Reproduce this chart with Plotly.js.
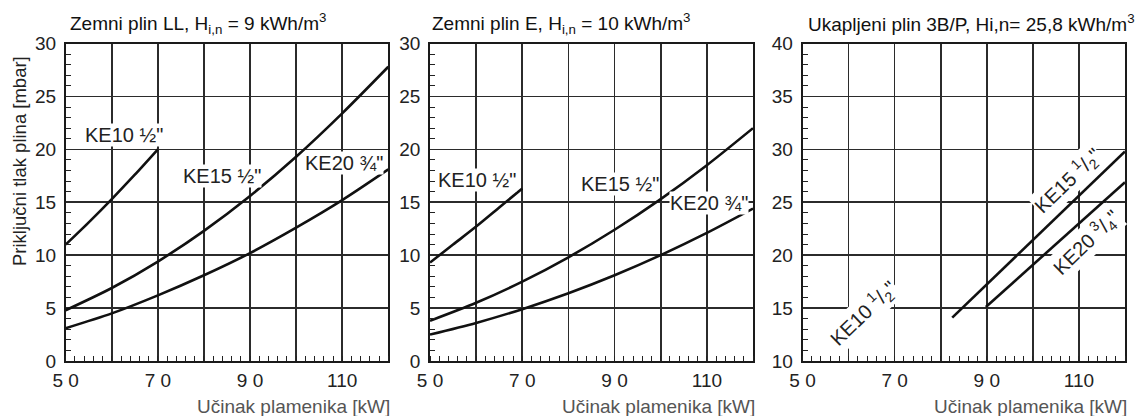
<!DOCTYPE html>
<html>
<head>
<meta charset="utf-8">
<script src="https://cdn.plot.ly/plotly-3.0.1.min.js"></script>
<style>html,body{margin:0;padding:0;background:#fff;}#chart{width:1140px;height:416px;}</style>
</head>
<body>
<div id="chart"></div>
<script>
// ---------- data ----------
const xTickVals = [50, 60, 70, 80, 90, 100, 110, 120];
const xTickText = ["5 0", "", "7 0", "", "9 0", "", "110", ""];

// Panel 1: Zemni plin LL
const llKE10x = [50, 55, 60, 65, 70];
const llKE10y = [11.0, 13.1, 15.3, 17.6, 20.0];
const llKE15x = [50, 60, 70, 80, 90, 100, 110, 120];
const llKE15y = [4.8, 6.9, 9.4, 12.3, 15.6, 19.3, 23.4, 27.8];
const llKE20x = [50, 60, 70, 80, 90, 100, 110, 120];
const llKE20y = [3.1, 4.5, 6.2, 8.1, 10.2, 12.6, 15.2, 18.1];

// Panel 2: Zemni plin E
const eKE10x = [50, 55, 60, 65, 70];
const eKE10y = [9.3, 11.0, 12.7, 14.5, 16.3];
const eKE15x = [50, 60, 70, 80, 90, 100, 110, 120];
const eKE15y = [3.8, 5.5, 7.5, 9.8, 12.4, 15.3, 18.5, 22.0];
const eKE20x = [50, 60, 70, 80, 90, 100, 110, 120];
const eKE20y = [2.5, 3.6, 4.9, 6.4, 8.1, 10.0, 12.1, 14.4];

// Panel 3: Ukapljeni plin 3B/P
const lpKE15x = [82.5, 120];
const lpKE15y = [14.1, 29.8];
const lpKE20x = [89.8, 120];
const lpKE20y = [15.1, 26.9];

const panelTitles = [
  "Zemni plin LL, H<sub>i,n</sub> = 9 kWh/m<sup>3</sup>",
  "Zemni plin E, H<sub>i,n</sub> = 10 kWh/m<sup>3</sup>",
  "Ukapljeni plin 3B/P, Hi,n= 25,8 kWh/m<sup>3</sup>"
];
const xTitle = "Učinak plamenika [kW]";
const yTitle = "Priključni tlak plina [mbar]";

// ---------- layout helpers ----------
const FONT = "Liberation Sans, Arial, Helvetica, sans-serif";
const W = 1140, H = 416;
const plotTop = 43.5, plotBottom = 361;
const panelsPx = [[65.7, 388.3], [430, 753], [802.5, 1125]];
const yDom = [(H - plotBottom) / H, (H - plotTop) / H];
const GRID = '#2b2b2b';

function xAxis(i) {
  return {
    domain: [panelsPx[i][0] / W, panelsPx[i][1] / W],
    anchor: i === 0 ? 'y' : 'y' + (i + 1),
    range: [50, 120], fixedrange: true,
    tickmode: 'array', tickvals: xTickVals, ticktext: xTickText,
    ticks: '', ticklabelstandoff: 1,
    showgrid: true, gridcolor: GRID, gridwidth: 1.6,
    showline: true, linecolor: '#1a1a1a', linewidth: 1.8, mirror: true,
    zeroline: false,
    tickfont: {family: FONT, size: 19, color: '#222'},
    minor: {tickmode: 'linear', tick0: 50, dtick: 2, ticks: 'inside', ticklen: 5,
            tickcolor: '#222', tickwidth: 1, showgrid: false}
  };
}
function yAxis(i, lo, hi) {
  return {
    domain: yDom,
    anchor: i === 0 ? 'x' : 'x' + (i + 1),
    range: [lo, hi], fixedrange: true,
    tickmode: 'linear', tick0: lo, dtick: 5,
    ticks: '', ticklabelstandoff: 4,
    showgrid: true, gridcolor: GRID, gridwidth: 1.6,
    showline: true, linecolor: '#1a1a1a', linewidth: 1.8, mirror: true,
    zeroline: false,
    tickfont: {family: FONT, size: 19, color: '#222'},
    minor: {tickmode: 'linear', tick0: lo, dtick: 1, ticks: 'inside', ticklen: 5,
            tickcolor: '#222', tickwidth: 1, showgrid: false}
  };
}

function curve(x, y, i) {
  return {
    x: x, y: y, type: 'scatter', mode: 'lines',
    xaxis: i === 0 ? 'x' : 'x' + (i + 1),
    yaxis: i === 0 ? 'y' : 'y' + (i + 1),
    line: {color: '#111', width: 2.6, shape: 'spline', smoothing: 0.8},
    hoverinfo: 'skip', showlegend: false
  };
}

const data = [
  curve(llKE10x, llKE10y, 0), curve(llKE15x, llKE15y, 0), curve(llKE20x, llKE20y, 0),
  curve(eKE10x, eKE10y, 1), curve(eKE15x, eKE15y, 1), curve(eKE20x, eKE20y, 1),
  curve(lpKE15x, lpKE15y, 2), curve(lpKE20x, lpKE20y, 2)
];

function lbl(i, x, y, text, angle) {
  return {
    xref: i === 0 ? 'x' : 'x' + (i + 1), yref: i === 0 ? 'y' : 'y' + (i + 1),
    x: x, y: y, text: text, showarrow: false, textangle: angle || 0,
    font: {family: FONT, size: 20, color: '#222'},
    bgcolor: '#ffffff', borderpad: 0, xanchor: 'center', yanchor: 'middle'
  };
}

const annotations = [
  lbl(0, 62.6, 21.4, 'KE10 ½"'),
  lbl(0, 83.9, 17.45, 'KE15 ½"'),
  lbl(0, 110.3, 18.7, 'KE20 ¾"'),
  lbl(1, 60.2, 17.1, 'KE10 ½"'),
  lbl(1, 91.2, 16.75, 'KE15 ½"'),
  lbl(1, 110.5, 14.95, 'KE20 ¾"'),
  lbl(2, 107.6, 27.1, 'KE15 <sup>1</sup>/<sub>2</sub>"', -44),
  lbl(2, 111.6, 21.2, 'KE20 <sup>3</sup>/<sub>4</sub>"', -44),
  lbl(2, 63.2, 14.5, 'KE10 <sup>1</sup>/<sub>2</sub>"', -44)
];

const titleX = [68, 430, 806];
panelTitles.forEach((t, i) => {
  annotations.push({
    xref: 'paper', yref: 'paper', x: titleX[i] / W, y: (H - 23) / H,
    xanchor: 'left', yanchor: 'middle', text: t, showarrow: false,
    font: {family: FONT, size: 19, color: '#111'}
  });
  annotations.push({
    xref: 'paper', yref: 'paper', x: (panelsPx[i][1] + 4) / W, y: (H - 406) / H,
    xanchor: 'right', yanchor: 'middle', text: xTitle, showarrow: false,
    font: {family: FONT, size: 19, color: '#555'}
  });
});
annotations.push({
  xref: 'paper', yref: 'paper', x: 20 / W, y: (H - 161) / H,
  xanchor: 'center', yanchor: 'middle', text: yTitle, showarrow: false, textangle: -90,
  font: {family: FONT, size: 18.5, color: '#222'}
});

const layout = {
  width: W, height: H,
  margin: {l: 0, r: 0, t: 0, b: 0},
  paper_bgcolor: '#fff', plot_bgcolor: '#fff',
  showlegend: false,
  xaxis: xAxis(0), xaxis2: xAxis(1), xaxis3: xAxis(2),
  yaxis: yAxis(0, 0, 30), yaxis2: yAxis(1, 0, 30), yaxis3: yAxis(2, 10, 40),
  annotations: annotations
};

Plotly.newPlot('chart', data, layout, {staticPlot: true, displayModeBar: false});
</script>
</body>
</html>
